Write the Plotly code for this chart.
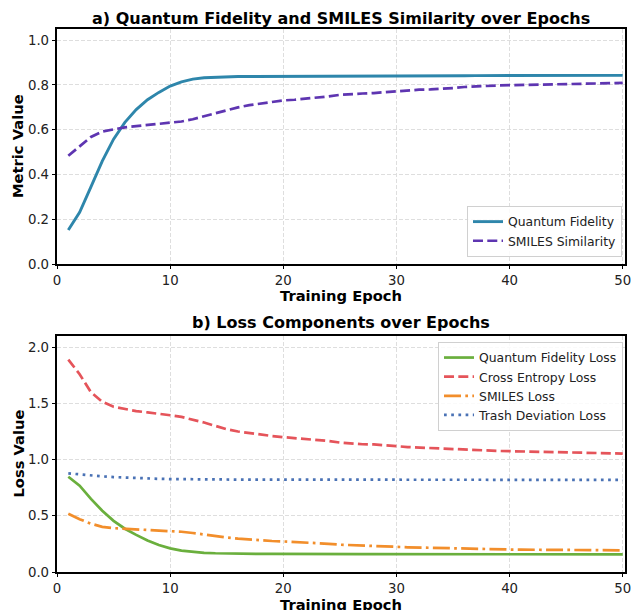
import plotly.graph_objects as go

epochs = list(range(1, 51))

quantum_fidelity = [0.152, 0.231, 0.345, 0.460, 0.558, 0.633, 0.690, 0.734, 0.767, 0.795,
                    0.814, 0.826, 0.832, 0.835, 0.837, 0.838, 0.838, 0.838, 0.839, 0.839,
                    0.839, 0.839, 0.839, 0.840, 0.840, 0.840, 0.840, 0.840, 0.840, 0.841,
                    0.841, 0.841, 0.841, 0.841, 0.841, 0.841, 0.842, 0.842, 0.842, 0.842,
                    0.842, 0.842, 0.842, 0.843, 0.843, 0.843, 0.843, 0.843, 0.843, 0.843]

smiles_similarity = [0.484, 0.524, 0.568, 0.592, 0.602, 0.611, 0.616, 0.621, 0.625, 0.630,
                     0.637, 0.647, 0.660, 0.674, 0.689, 0.700, 0.710, 0.718, 0.725, 0.731,
                     0.734, 0.738, 0.742, 0.749, 0.756, 0.760, 0.762, 0.764, 0.768, 0.774,
                     0.777, 0.779, 0.780, 0.782, 0.786, 0.791, 0.794, 0.796, 0.798, 0.799,
                     0.800, 0.801, 0.802, 0.803, 0.804, 0.805, 0.806, 0.807, 0.808, 0.809]

quantum_fidelity_loss = [0.848, 0.768, 0.650, 0.545, 0.455, 0.385, 0.330, 0.280, 0.240, 0.210,
                         0.190, 0.178, 0.171, 0.167, 0.164, 0.163, 0.162, 0.161, 0.161, 0.160,
                         0.160, 0.160, 0.160, 0.160, 0.160, 0.159, 0.159, 0.159, 0.159, 0.159,
                         0.159, 0.159, 0.159, 0.159, 0.159, 0.158, 0.158, 0.158, 0.158, 0.158,
                         0.158, 0.158, 0.158, 0.158, 0.158, 0.157, 0.157, 0.157, 0.157, 0.157]

cross_entropy_loss = [1.890, 1.760, 1.600, 1.515, 1.470, 1.450, 1.432, 1.420, 1.410, 1.395,
                      1.380, 1.357, 1.330, 1.300, 1.270, 1.250, 1.235, 1.220, 1.210, 1.200,
                      1.192, 1.186, 1.177, 1.166, 1.152, 1.142, 1.137, 1.135, 1.130, 1.120,
                      1.112, 1.107, 1.105, 1.100, 1.097, 1.091, 1.086, 1.081, 1.077, 1.075,
                      1.073, 1.070, 1.068, 1.066, 1.064, 1.062, 1.060, 1.058, 1.056, 1.054]

smiles_loss = [0.518, 0.470, 0.430, 0.402, 0.390, 0.385, 0.380, 0.376, 0.372, 0.367,
               0.358, 0.347, 0.333, 0.318, 0.307, 0.297, 0.288, 0.281, 0.276, 0.272,
               0.268, 0.263, 0.258, 0.251, 0.243, 0.238, 0.236, 0.233, 0.229, 0.224,
               0.220, 0.217, 0.216, 0.214, 0.212, 0.208, 0.205, 0.203, 0.201, 0.200,
               0.199, 0.198, 0.197, 0.196, 0.196, 0.195, 0.195, 0.194, 0.194, 0.193]

trash_deviation_loss = [0.878, 0.868, 0.858, 0.851, 0.845, 0.840, 0.836, 0.832, 0.829, 0.827,
                        0.825, 0.824, 0.823, 0.823, 0.823, 0.822, 0.822, 0.822, 0.822, 0.822,
                        0.822, 0.822, 0.822, 0.822, 0.822, 0.821, 0.821, 0.821, 0.821, 0.821,
                        0.821, 0.821, 0.821, 0.821, 0.821, 0.821, 0.821, 0.821, 0.821, 0.820,
                        0.820, 0.820, 0.820, 0.820, 0.820, 0.820, 0.820, 0.820, 0.820, 0.820]

x_ticks = [0, 10, 20, 30, 40, 50]
top_y_ticks = [0.0, 0.2, 0.4, 0.6, 0.8, 1.0]
bottom_y_ticks = [0.0, 0.5, 1.0, 1.5, 2.0]

FONT = "DejaVu Sans"
LW = 2.7

fig = go.Figure()

fig.add_trace(go.Scatter(x=epochs, y=quantum_fidelity, mode="lines", name="Quantum Fidelity",
                         line=dict(color="#2E86AB", width=2.9), xaxis="x", yaxis="y", legend="legend"))
fig.add_trace(go.Scatter(x=epochs, y=smiles_similarity, mode="lines", name="SMILES Similarity",
                         line=dict(color="#5E35B1", width=LW, dash="10px,4.3px"),
                         xaxis="x", yaxis="y", legend="legend"))

fig.add_trace(go.Scatter(x=epochs, y=quantum_fidelity_loss, mode="lines", name="Quantum Fidelity Loss",
                         line=dict(color="#6AAF3D", width=LW), xaxis="x2", yaxis="y2", legend="legend2"))
fig.add_trace(go.Scatter(x=epochs, y=cross_entropy_loss, mode="lines", name="Cross Entropy Loss",
                         line=dict(color="#E5545A", width=LW, dash="10px,4.3px"),
                         xaxis="x2", yaxis="y2", legend="legend2"))
fig.add_trace(go.Scatter(x=epochs, y=smiles_loss, mode="lines", name="SMILES Loss",
                         line=dict(color="#F28E2B", width=LW, dash="17px,4.3px,2.7px,4.3px"),
                         xaxis="x2", yaxis="y2", legend="legend2"))
fig.add_trace(go.Scatter(x=epochs, y=trash_deviation_loss, mode="lines", name="Trash Deviation Loss",
                         line=dict(color="#4A72B5", width=LW, dash="2.7px,4.5px"),
                         xaxis="x2", yaxis="y2", legend="legend2"))

axis_common = dict(
    showline=True, linecolor="black", linewidth=1.5, mirror=True,
    ticks="outside", ticklen=3.5, tickwidth=1.2, tickcolor="black",
    showgrid=True, gridcolor="#dedede", gridwidth=0.8, griddash="4px,2px",
    zeroline=False, tickfont=dict(family=FONT, size=13.3, color="#222222"),
    automargin=False,
)

fig.update_layout(
    width=634, height=610,
    paper_bgcolor="white", plot_bgcolor="white",
    margin=dict(l=57, r=9, t=29, b=38),
    xaxis=dict(domain=[0, 1], anchor="y", range=[0, 50.2], tickvals=x_ticks, **axis_common),
    yaxis=dict(domain=[0.567, 1.0], anchor="x", range=[0, 1.05], tickvals=top_y_ticks,
               tickformat=".1f", **axis_common),
    xaxis2=dict(domain=[0, 1], anchor="y2", range=[0, 50.2], tickvals=x_ticks, **axis_common),
    yaxis2=dict(domain=[0, 0.4346], anchor="x2", range=[0, 2.1], tickvals=bottom_y_ticks,
                tickformat=".1f", **axis_common),
    legend=dict(x=0.9947, y=0.580, xanchor="right", yanchor="bottom",
                bgcolor="rgba(255,255,255,0.85)", bordercolor="#d0d0d0", borderwidth=1,
                font=dict(family=FONT, size=12.4, color="#222222"), tracegroupgap=0,
                itemwidth=30),
    legend2=dict(x=0.9965, y=0.4236, xanchor="right", yanchor="top",
                 bgcolor="rgba(255,255,255,0.85)", bordercolor="#d0d0d0", borderwidth=1,
                 font=dict(family=FONT, size=12.4, color="#222222"), tracegroupgap=0,
                 itemwidth=30),
    showlegend=True,
)

def ann(text, x, y, size, angle=0):
    fig.add_annotation(text=f"<b>{text}</b>", x=x, y=y, xref="paper", yref="paper",
                       xanchor="center", yanchor="middle", showarrow=False, textangle=angle,
                       font=dict(family=FONT, size=size, color="black"))

ann("a) Quantum Fidelity and SMILES Similarity over Epochs", 0.5, 1.0193, 16)
ann("b) Loss Components over Epochs", 0.5, 0.4586, 16)
ann("Training Epoch", 0.5, 0.510, 14.7)
ann("Training Epoch", 0.5, -0.0590, 14.7)
ann("Metric Value", -0.0695, 0.7836, 14.7, -90)
ann("Loss Value", -0.0695, 0.2173, 14.7, -90)

fig.write_html("out.html",
               config={"displayModeBar": False},
               post_script="document.body.style.margin='0';document.body.style.padding='0';document.body.style.overflow='hidden';")
